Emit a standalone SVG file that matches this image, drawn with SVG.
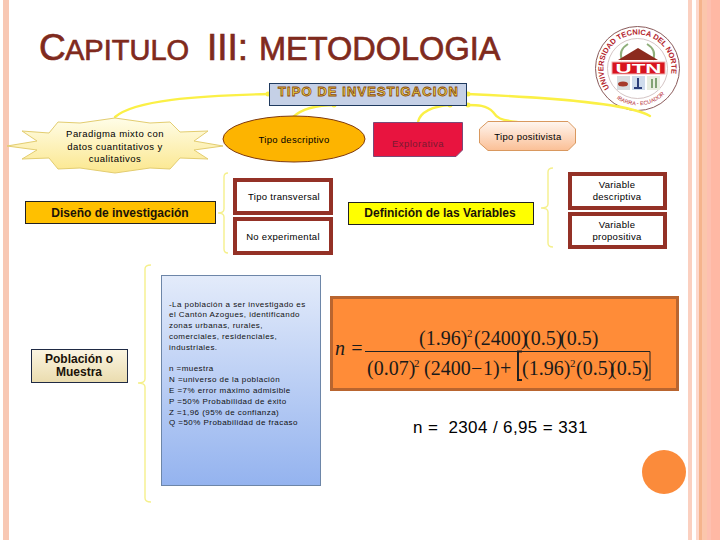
<svg xmlns="http://www.w3.org/2000/svg" width="720" height="540" viewBox="0 0 720 540">
<style>
text{font-family:"Liberation Sans",Arial,sans-serif;fill:#000}
.t{font-size:9.5px;text-anchor:middle;letter-spacing:.3px}
.w{letter-spacing:.45px}
.b{font-size:12px;font-weight:700;text-anchor:middle;fill:#1a1208}
.box{fill:#fff;stroke:#943126;stroke-width:4}
.c{fill:none;stroke:#fbf046;stroke-width:2.300;stroke-linecap:round}
.d{fill:#fbf046}
.br{fill:none;stroke:#f5f08c;stroke-width:1.400}
.m{font-family:"Liberation Serif","Times New Roman",serif;font-size:20px;fill:#1a1a1a}
.p{font-size:8px;letter-spacing:.45px;fill:#111}
.title{fill:#7f2a1d;stroke:#7f2a1d;stroke-width:.7}
</style>
<defs>
<linearGradient id="star" x1="0" y1="0" x2="0" y2="1"><stop offset="0" stop-color="#fffde8"/><stop offset="1" stop-color="#fbe78e"/></linearGradient>
<linearGradient id="peach" x1="0" y1="0" x2="0" y2="1"><stop offset="0" stop-color="#fff6f0"/><stop offset="1" stop-color="#fbbf95"/></linearGradient>
<linearGradient id="cream" x1="0" y1="0" x2="0" y2="1"><stop offset="0" stop-color="#fbf5e2"/><stop offset="1" stop-color="#eadcae"/></linearGradient>
<linearGradient id="blue" x1="0" y1="0" x2="0" y2="1"><stop offset="0" stop-color="#e3ebfa"/><stop offset="1" stop-color="#94b3ef"/></linearGradient>
<path id="arc" d="M609.600 88A34 34 0 1 1 665.400 88"/>
<path id="arc2" d="M608 90A37 37 0 0 0 668 90"/>
</defs>
<rect width="720" height="540" fill="#fff"/>
<g id="stripes">
<rect x="3" y="0" width="6" height="540" fill="#f8c8b4"/>
<rect x="688" y="0" width="4" height="540" fill="#fbd0c0"/>
<rect x="696" y="0" width="3" height="540" fill="#fdd8cc"/>
<rect x="699" y="0" width="3" height="540" fill="#f5b48c"/>
<rect x="702" y="0" width="5" height="540" fill="#fbc6ac"/>
<rect x="707" y="0" width="4" height="540" fill="#fdc0b0"/>
<rect x="711" y="0" width="9" height="540" fill="#ffb8a4"/>
</g>
<g id="title">
<text class="title" y="60" font-size="37"><tspan x="39">C</tspan><tspan x="65" font-size="29">APITULO</tspan><tspan x="207">III:</tspan><tspan x="259" font-size="32.500">METODOLOGIA</tspan></text>
</g>
<g id="logo">
<circle cx="637.500" cy="68.500" r="42" fill="#fff" stroke="#8a5a5a" stroke-width="1"/>
<circle cx="637.500" cy="68.500" r="30" fill="#fff" stroke="#c9b5b5" stroke-width=".8"/>
<text font-size="7.500" font-weight="700" style="fill:#b3242c"><textPath href="#arc">UNIVERSIDAD TECNICA DEL NORTE</textPath></text>
<text font-size="5.500" style="fill:#b3242c"><textPath href="#arc2" startOffset="12">IBARRA - ECUADOR</textPath></text>
<path d="M622 60Q618 50 628 44M653 60Q657 50 647 44" fill="none" stroke="#8fae7a" stroke-width="2"/>
<polygon points="618,60 638,48 658,60" fill="#8c2a1e"/>
<rect x="612" y="62" width="53" height="12" fill="#d8141f" stroke="#f0b0b0"/>
<text x="638.500" y="73" font-size="13" font-weight="700" text-anchor="middle" textLength="46" lengthAdjust="spacingAndGlyphs" style="fill:#fff">UTN</text>
<rect x="617" y="76" width="13" height="14" fill="#d8dde0"/>
<rect x="632" y="76" width="13" height="14" fill="#cfdcec"/>
<rect x="647" y="76" width="13" height="14" fill="#e8eee0"/>
<ellipse cx="623" cy="84" rx="5" ry="2.500" fill="#a63a2a"/>
<path d="M638 78V87M634 88H642" stroke="#2c3f7a" stroke-width="2"/>
<path d="M652 79V88M656 78V88" stroke="#5f8a50" stroke-width="1.500"/>
</g>
<g id="connectors">
<path class="c" d="M115 117C135 100 195 96 269 94"/>
<path class="c" d="M293 117C303 108 316 105 335 105"/>
<path class="c" d="M418 122C420 112 433 106 450 105"/>
<path class="c" d="M517 122C500 120 497 118 493 112C487 105 477 105 467 105"/>
<path class="c" d="M650 116C630 104 560 98 467 94"/>
<circle class="d" cx="268" cy="94" r="2.500"/><circle class="d" cx="334" cy="105" r="2.500"/><circle class="d" cx="450" cy="105" r="2.500"/><circle class="d" cx="468" cy="105" r="2.500"/><circle class="d" cx="468" cy="94" r="2.500"/>
<path class="br" d="M228 173Q224 173 224 177V209Q224 213 218 213Q224 213 224 217V249Q224 253 228 253"/>
<path class="br" d="M553 168Q548 168 548 172V204Q548 208 541 208Q548 208 548 212V243Q548 247 553 247"/>
<path class="br" d="M151 265Q145 265 145 269V379Q145 383 138 383Q145 383 145 387V498Q145 502 151 502"/>
</g>
<g id="tipo-investigacion">
<rect x="269.500" y="83.500" width="197" height="22" fill="#c5d0e6" stroke="#1f3a5f"/>
<text x="278" y="96" font-size="13" font-weight="700" textLength="180" lengthAdjust="spacing" style="fill:#f4dc4a;stroke:#8a4a10;stroke-width:.8">TIPO DE INVESTIGACION</text>
</g>
<g id="paradigma">
<polygon points="7,146 37,141 22,131 49,133 58,122 80,123 115,118 150,123 170,122 180,132 208,131 194,141 223,146 194,150 208,159 180,158 170,169 150,168 115,173 80,168 58,169 49,158 22,159 37,150" fill="url(#star)" stroke="#e3cd70"/>
<text class="t w" x="115" y="137">Paradigma mixto con</text>
<text class="t w" x="115" y="150">datos cuantitativos y</text>
<text class="t w" x="115" y="162">cualitativos</text>
</g>
<g id="descriptivo">
<ellipse cx="294" cy="139" rx="71" ry="23" fill="#fdb400" stroke="#7f3a10"/>
<text class="t" x="294" y="143">Tipo descriptivo</text>
</g>
<g id="explorativa">
<polygon points="373.500,122.500 462.500,122.500 462.500,150 456,156.500 373.500,156.500" fill="#e8143f" stroke="#7a4a78"/>
<text class="t w" x="418" y="147" style="fill:#7a1a30">Explorativa</text>
</g>
<g id="positivista">
<polygon points="488,121.500 568,121.500 575.500,129 575.500,143 568,150.500 488,150.500 479.500,143 479.500,129" fill="url(#peach)" stroke="#d9985f"/>
<text class="t" x="528" y="140">Tipo positivista</text>
</g>
<g id="diseno">
<rect x="25.500" y="201.500" width="190" height="22" fill="#ffc000" stroke="#222"/>
<text class="b" x="120" y="217">Diseño de investigación</text>
</g>
<g id="transversal">
<rect class="box" x="235" y="180" width="96" height="33"/>
<text class="t" x="284" y="200">Tipo transversal</text>
</g>
<g id="experimental">
<rect class="box" x="235" y="219" width="96" height="34"/>
<text class="t" x="283" y="240">No experimental</text>
</g>
<g id="definicion">
<rect x="348.500" y="202.500" width="185" height="22" fill="#ffff00" stroke="#222"/>
<text class="b" x="440" y="217">Definición de las Variables</text>
</g>
<g id="var-descriptiva">
<rect class="box" x="570" y="174" width="95" height="34"/>
<text class="t" x="617" y="188">Variable</text>
<text class="t" x="617" y="200">descriptiva</text>
</g>
<g id="var-propositiva">
<rect class="box" x="570" y="214" width="95" height="33"/>
<text class="t" x="617" y="228">Variable</text>
<text class="t" x="617" y="240">propositiva</text>
</g>
<g id="poblacion">
<rect x="31.500" y="349.500" width="96" height="33" fill="url(#cream)" stroke="#1f2a44"/>
<text class="b" x="79" y="363">Población o</text>
<text class="b" x="79" y="376">Muestra</text>
</g>
<g id="detalle">
<rect x="161.500" y="275.500" width="159" height="210" fill="url(#blue)" stroke="#6d86a8"/>
<text class="p" x="169" y="307">-La población a ser investigado es</text>
<text class="p" x="169" y="317">el Cantón Azogues, identificando</text>
<text class="p" x="169" y="328">zonas urbanas, rurales,</text>
<text class="p" x="169" y="339">comerciales, residenciales,</text>
<text class="p" x="169" y="350">industriales.</text>
<text class="p" x="169" y="371">n =muestra</text>
<text class="p" x="169" y="382">N =universo de la población</text>
<text class="p" x="169" y="393">E =7% error máximo admisible</text>
<text class="p" x="169" y="404">P =50% Probabilidad de éxito</text>
<text class="p" x="169" y="415">Z =1,96 (95% de confianza)</text>
<text class="p" x="169" y="425">Q =50% Probabilidad de fracaso</text>
</g>
<g id="formula">
<rect x="331.500" y="297.500" width="346" height="92" fill="#ff8c38" stroke="#b9652f" stroke-width="3"/>
<text class="m" x="335" y="355" font-style="italic">n =</text>
<text class="m" y="345"><tspan x="419">(1.96)</tspan><tspan x="467" y="337" font-size="11">2</tspan><tspan x="474" y="345">(2400)</tspan><tspan x="524">(0.5)</tspan><tspan x="560">(0.5)</tspan></text>
<path d="M365 351.500H650" stroke="#222" stroke-width="1" fill="none"/>
<text class="m" y="375"><tspan x="367">(0.07)</tspan><tspan x="414" y="367" font-size="11">2</tspan><tspan x="424" y="375">(2400</tspan><tspan x="471">−</tspan><tspan x="483">1)</tspan><tspan x="500">+</tspan><tspan x="522">(1.96)</tspan><tspan x="570" y="367" font-size="11">2</tspan><tspan x="576" y="375">(0.5)</tspan><tspan x="610">(0.5)</tspan></text>
<path d="M522 351.500H518V380H522" stroke="#222" stroke-width="2" fill="none"/>
<path d="M645 351.500H650V380H645" stroke="#222" stroke-width="1" fill="none"/>
</g>
<g id="resultado">
<text x="413" y="433" font-size="17" letter-spacing=".38" style="white-space:pre">n =  2304 / 6,95 = 331</text>
</g>
<circle id="dot" cx="664" cy="472" r="22" fill="#fb8b3b"/>
</svg>
